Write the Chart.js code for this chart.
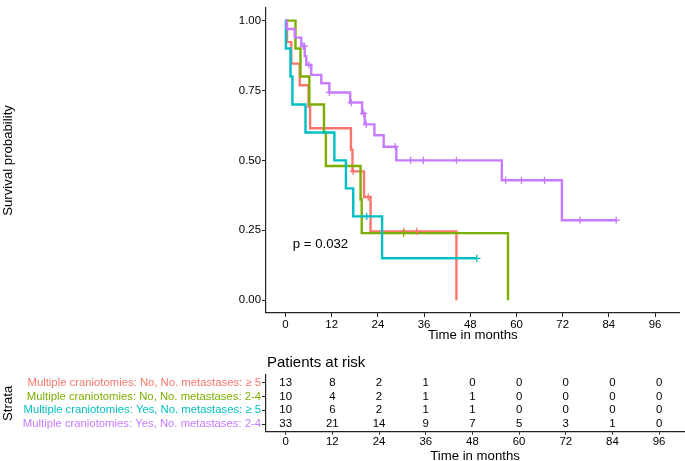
<!DOCTYPE html>
<html>
<head>
<meta charset="utf-8">
<script src="https://cdn.jsdelivr.net/npm/chart.js@4/dist/chart.umd.min.js"></script>
<style>
    body { margin: 0; background: #ffffff; overflow: hidden; }
    #wrap { position: relative; width: 685px; height: 461px; }
    canvas { position: absolute; left: 0; }
</style>
</head>
<body>
<div id="wrap">
    <canvas id="chart_km" width="685" height="345" style="top:0"></canvas>
    <canvas id="chart_risk" width="685" height="120" style="top:345px"></canvas>
</div>
<script>
// strata, in legend / table order
const strata = [
    'Multiple craniotomies: No, No. metastases: \u2265 5',
    'Multiple craniotomies: No, No. metastases: 2-4',
    'Multiple craniotomies: Yes, No. metastases: \u2265 5',
    'Multiple craniotomies: Yes, No. metastases: 2-4',
];
const colors = ['#F8766D', '#7CAE00', '#00BFC4', '#C77CFF'];

// Kaplan-Meier steps (months, survival)
const noHighTimes  = [0, 0.4, 1.5, 3.7, 6.0, 6.4, 17.0, 17.4, 20.4, 22.1, 44.4];
const noHighSurv   = [1, 0.923, 0.846, 0.769, 0.692, 0.615, 0.538, 0.461, 0.369, 0.246, 0];
const noHighCensor = [17.6, 21.5, 30.7, 34.1];

const noLowTimes  = [0, 2.6, 3.9, 6.2, 10.0, 10.5, 19.5, 19.8, 57.8];
const noLowSurv   = [1, 0.9, 0.8, 0.7, 0.6, 0.48, 0.36, 0.24, 0];
const noLowCensor = [30.7];

const yesHighTimes  = [0, 0.1, 1.3, 1.8, 5.2, 12.7, 15.7, 17.6, 25.1, 49.7];
const yesHighSurv   = [1, 0.9, 0.8, 0.7, 0.6, 0.5, 0.4, 0.3, 0.15, 0.15];
const yesHighCensor = [21.1, 49.7];

const yesLowTimes  = [0, 0.3, 2.4, 4.1, 5.0, 5.4, 6.7, 9.3, 11.4, 16.8, 19.9, 20.6, 23.1, 25.5, 28.8, 56.2, 71.8, 85.9];
const yesLowSurv   = [1, 0.970, 0.939, 0.909, 0.873, 0.842, 0.806, 0.776, 0.743, 0.707, 0.668, 0.629, 0.590, 0.549, 0.50, 0.429, 0.286, 0.286];
const yesLowCensor = [4.6, 4.9, 6.1, 11.4, 17.1, 20.3, 21.0, 28.5, 32.5, 35.8, 44.4, 57.2, 61.3, 67.3, 76.5, 85.9];

const pValueText = 'p = 0.032';
const pValuePos = [1.9, 0.2];

// numbers at risk
const riskTimes    = [0, 12, 24, 36, 48, 60, 72, 84, 96];
const riskNoHigh   = [13, 8, 2, 1, 0, 0, 0, 0, 0];
const riskNoLow    = [10, 4, 2, 1, 1, 0, 0, 0, 0];
const riskYesHigh  = [10, 6, 2, 1, 1, 0, 0, 0, 0];
const riskYesLow   = [33, 21, 14, 9, 7, 5, 3, 1, 0];

const yTicks = [0, 0.25, 0.5, 0.75, 1];

const curves = [
    {times: noHighTimes, surv: noHighSurv, censor: noHighCensor},
    {times: noLowTimes, surv: noLowSurv, censor: noLowCensor},
    {times: yesHighTimes, surv: yesHighSurv, censor: yesHighCensor},
    {times: yesLowTimes, surv: yesLowSurv, censor: yesLowCensor},
];
const riskRows = [riskNoHigh, riskNoLow, riskYesHigh, riskYesLow];

Chart.defaults.font.family = "'Liberation Sans', Arial, sans-serif";
Chart.defaults.color = '#000000';

const axisColor = '#222222';
const tickFont = {size: 11.4};
const titleFont = {size: 13.2};

// survival value of a curve at time t (step lookup)
function survAt(curve, t) {
    let s = curve.surv[0];
    curve.times.forEach((time, i) => {
        if (time <= t) s = curve.surv[i];
    });
    return s;
}

const datasets = [];
curves.forEach((c, i) => {
    datasets.push({
        type           : 'line',
        data           : c.times.map((t, k) => ({x: t, y: c.surv[k]})),
        borderColor    : colors[i],
        borderWidth    : 2.4,
        borderJoinStyle: 'miter',
        stepped        : 'before',
        pointRadius    : 0,
        fill           : false,
        order          : 10 - i,
    });
});
curves.forEach((c, i) => {
    datasets.push({
        type       : 'scatter',
        data       : c.censor.map(t => ({x: t, y: survAt(c, t)})),
        pointStyle : 'cross',
        pointRadius: 3.6,
        borderColor: colors[i],
        borderWidth: 1.3,
        order      : -i,
    });
});

const pValuePlugin = {
    id: 'pValue',
    afterDatasetsDraw(chart) {
        const {ctx, scales} = chart;
        ctx.save();
        ctx.font = "13.2px 'Liberation Sans', Arial, sans-serif";
        ctx.fillStyle = '#000000';
        ctx.textAlign = 'left';
        ctx.textBaseline = 'middle';
        ctx.fillText(pValueText, scales.x.getPixelForValue(pValuePos[0]), scales.y.getPixelForValue(pValuePos[1]));
        ctx.restore();
    },
};

new Chart(document.getElementById('chart_km'), {
    data   : {datasets: datasets},
    options: {
        responsive: false,
        animation : false,
        layout    : {padding: {top: 2, right: 1, left: 0, bottom: 0}},
        plugins   : {
            legend : {display: false},
            tooltip: {enabled: false},
        },
        scales    : {
            x: {
                type            : 'linear',
                min             : -5.06,
                max             : 102.4,
                afterFit        : s => { s.height = 32; },
                afterBuildTicks : s => { s.ticks = riskTimes.map(v => ({value: v})); },
                ticks           : {font: tickFont, color: '#000000', padding: 1, autoSkip: false, maxRotation: 0},
                grid            : {drawOnChartArea: false, color: axisColor, tickLength: 4},
                border          : {color: axisColor, width: 1.2},
                title           : {display: true, text: 'Time in months', font: titleFont, padding: {top: 0, bottom: 2.1}},
            },
            y: {
                type           : 'linear',
                min            : -0.0456,
                max            : 1.0456,
                afterFit       : s => { s.width = 266; },
                afterBuildTicks: s => { s.ticks = yTicks.map(v => ({value: v})); },
                ticks          : {font: tickFont, color: '#000000', padding: 1, callback: v => v.toFixed(2)},
                grid           : {drawOnChartArea: false, color: axisColor, tickLength: 4},
                border         : {color: axisColor, width: 1.2},
                title          : {display: true, text: 'Survival probability', font: titleFont, padding: {top: 0, bottom: 0}},
            },
        },
    },
    plugins: [pValuePlugin],
});

const riskPlugin = {
    id: 'riskTable',
    afterDatasetsDraw(chart) {
        const {ctx, scales, chartArea} = chart;
        ctx.save();
        ctx.fillStyle = '#000000';
        ctx.font = "11.4px 'Liberation Sans', Arial, sans-serif";
        ctx.textAlign = 'center';
        ctx.textBaseline = 'middle';
        riskRows.forEach((row, i) => {
            row.forEach((n, j) => {
                ctx.fillText(String(n), scales.x.getPixelForValue(riskTimes[j]), scales.y.getPixelForValue(i));
            });
        });
        ctx.font = "15px 'Liberation Sans', Arial, sans-serif";
        ctx.textAlign = 'left';
        ctx.textBaseline = 'alphabetic';
        ctx.fillText('Patients at risk', chartArea.left + 1, chartArea.top - 8);
        ctx.restore();
    },
};

new Chart(document.getElementById('chart_risk'), {
    type   : 'scatter',
    data   : {
        datasets: [{
            data       : riskRows.flatMap((row, i) => row.map((n, j) => ({x: riskTimes[j], y: i}))),
            pointRadius: 0,
        }],
    },
    options: {
        responsive: false,
        animation : false,
        layout    : {padding: {top: 30, right: 1, left: 0, bottom: 0}},
        plugins   : {
            legend : {display: false},
            tooltip: {enabled: false},
        },
        scales    : {
            x: {
                type           : 'linear',
                min            : -5.06,
                max            : 102.4,
                afterFit       : s => { s.height = 33.3; },
                afterBuildTicks: s => { s.ticks = riskTimes.map(v => ({value: v})); },
                ticks          : {font: tickFont, color: '#000000', padding: 0, autoSkip: false, maxRotation: 0},
                grid           : {drawOnChartArea: false, color: axisColor, tickLength: 3},
                border         : {color: axisColor, width: 1.2},
                title          : {display: true, text: 'Time in months', font: titleFont, padding: {top: 0, bottom: 0.7}},
            },
            y: {
                type           : 'linear',
                min            : -0.55,
                max            : 3.55,
                reverse        : true,
                afterFit       : s => { s.width = 266; },
                afterBuildTicks: s => { s.ticks = [0, 1, 2, 3].map(v => ({value: v})); },
                ticks          : {
                    font    : {size: 11.3},
                    padding : 1,
                    autoSkip: false,
                    color   : ctx => colors[ctx.tick.value],
                    callback: v => strata[v],
                },
                grid           : {drawOnChartArea: false, color: axisColor, tickLength: 4},
                border         : {color: axisColor, width: 1.2},
                title          : {display: true, text: 'Strata', font: titleFont, padding: {top: 0, bottom: 0}},
            },
        },
    },
    plugins: [riskPlugin],
});
</script>
</body>
</html>
